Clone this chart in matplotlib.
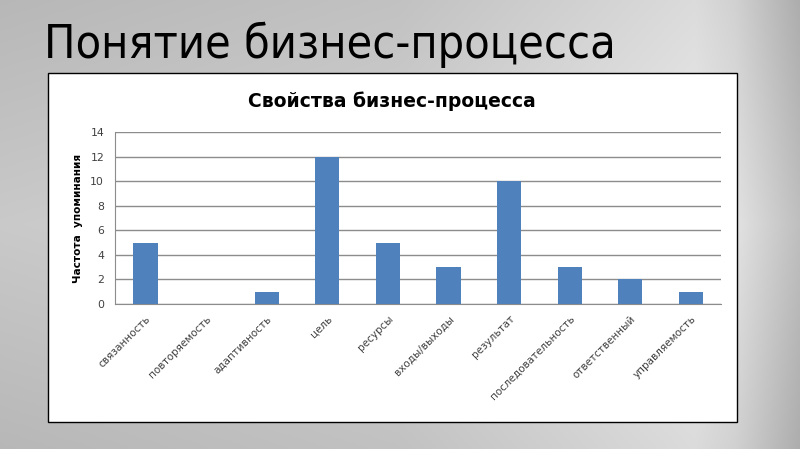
import numpy as np, matplotlib; matplotlib.use('Agg')
import matplotlib.pyplot as plt
from matplotlib.patches import Rectangle

categories=['связанность','повторяемость','адаптивность','цель','ресурсы','входы/выходы',
            'результат','последовательность','ответственный','управляемость']
values=[5,0,1,12,5,3,10,3,2,1]
yticks=[0,2,4,6,8,10,12,14]

fig=plt.figure(figsize=(8,4.49),dpi=100)

# slide background: gray gradient, lighter band toward the right
bg=fig.add_axes([0,0,1,1]); bg.set_axis_off()
xs=np.linspace(0,1,400); ys=np.linspace(0,1,225)
hx=np.interp(xs,[0,0.5,0.87,0.92,1],[0.76,0.80,0.90,0.86,0.72])
vy=np.interp(ys,[0,0.5,1],[-0.04,0.03,-0.04])
g=np.clip(hx[None,:]+vy[:,None],0,1)
bg.imshow(np.dstack([g,g,g]),extent=[0,1,0,1],aspect='auto',origin='lower')
bg.set_xlim(0,1); bg.set_ylim(0,1)
# white chart box
bg.add_patch(Rectangle((0.06,0.060),0.861,0.777,facecolor='white',edgecolor='black',lw=1.0))

fig.text(0.055,0.90,'Понятие бизнес-процесса',fontsize=33.5,fontstretch='condensed',
         color='black',va='center',ha='left')

ax=fig.add_axes([0.144,0.323,0.7575,0.383])
ax.set_facecolor('white')
x=np.arange(len(categories))
ax.bar(x,values,width=0.4,color='#4F81BD',zorder=3)
ax.set_xlim(-0.5,len(categories)-0.5); ax.set_ylim(0,14)
ax.set_yticks(yticks)
ax.set_yticklabels([str(t) for t in yticks],fontsize=7.8,color='#404040')
ax.set_xticks(x)
ax.set_xticklabels(categories,rotation=45,ha='right',rotation_mode='anchor',fontsize=7.5,color='#404040')
ax.tick_params(axis='both',length=0,pad=8)
ax.tick_params(axis='x',pad=7)
ax.grid(axis='y',color='#8c8c8c',lw=1.0,zorder=0)
for s in ['top','right']: ax.spines[s].set_visible(False)
for s in ['left','bottom']: ax.spines[s].set_color('#8c8c8c')
ax.set_ylabel('Частота  упоминания',fontsize=7.6,fontweight='bold',labelpad=5)
fig.text(0.49,0.775,'Свойства бизнес-процесса',fontsize=13.5,fontweight='bold',ha='center',va='center')

fig.savefig('out.png',dpi=100)
